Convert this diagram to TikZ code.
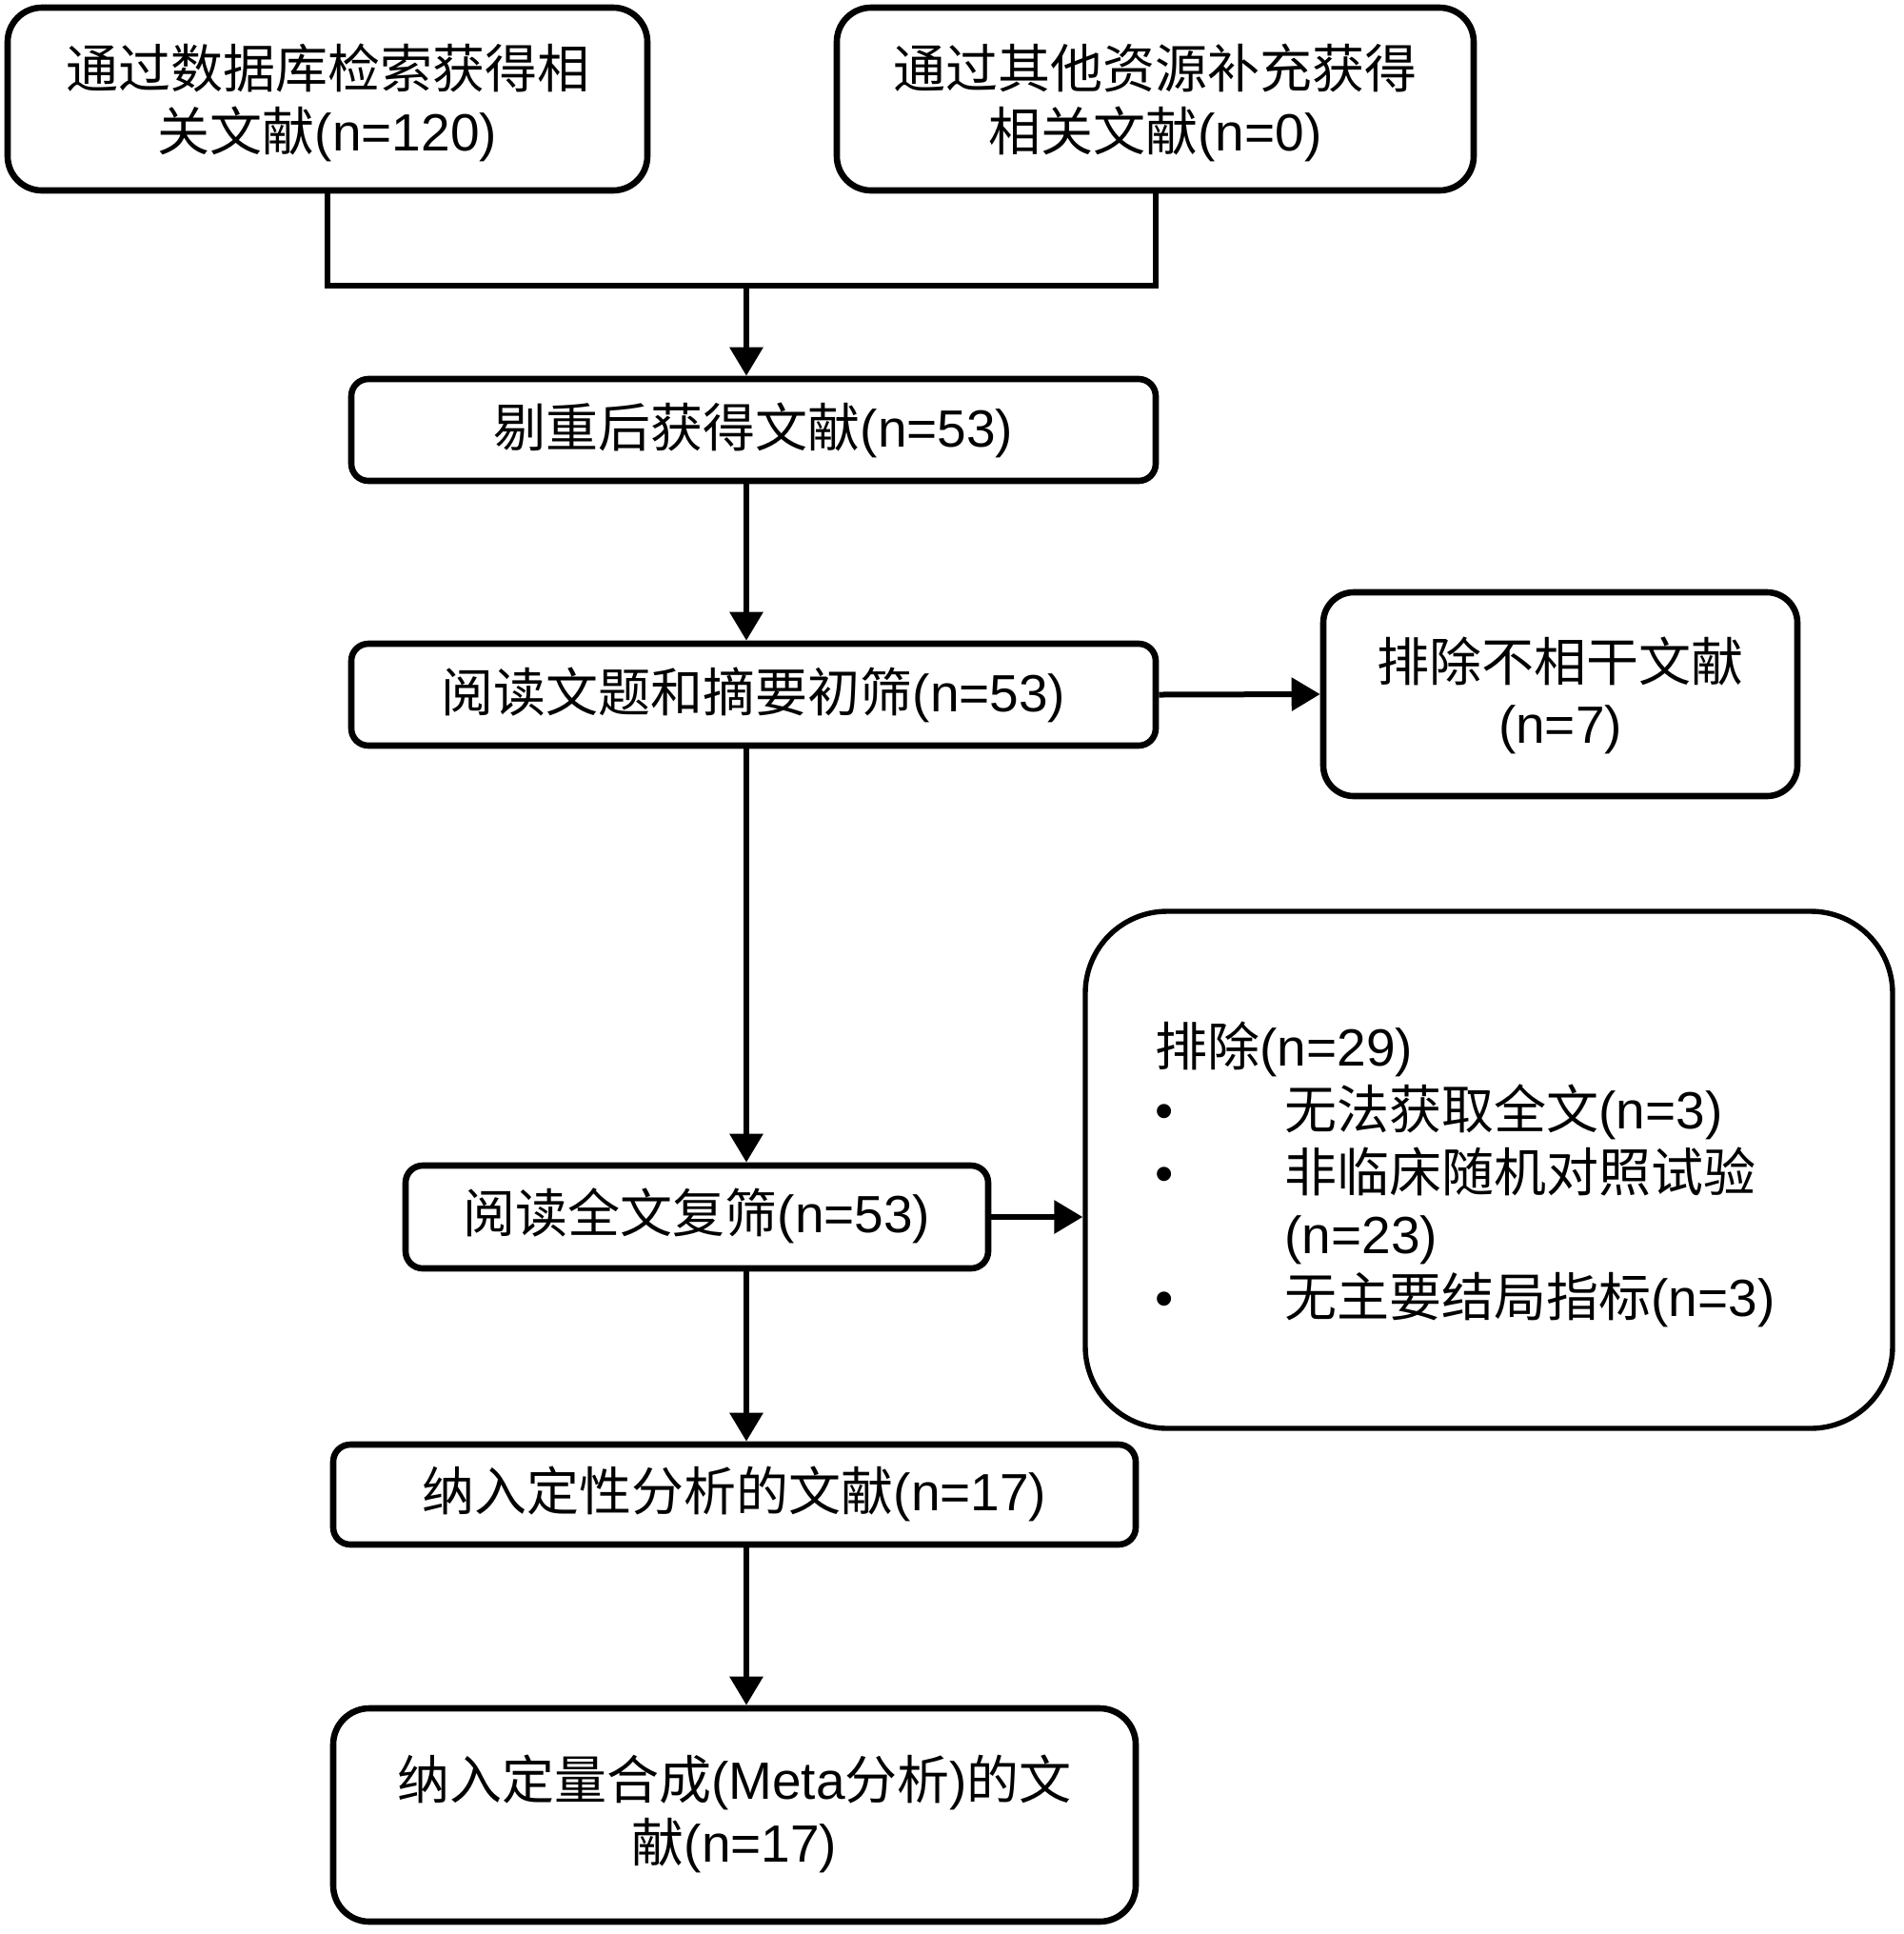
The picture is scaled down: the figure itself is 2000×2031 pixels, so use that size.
\documentclass[tikz,border=0pt]{standalone}
\usepackage{fontspec}
\setmainfont{Liberation Sans}
\newfontfamily\cjk{Noto Sans CJK SC}
\usetikzlibrary{arrows.meta}
\newcommand\zh[1]{{\cjk #1}}
\newcommand\dn[2]{\raisebox{-#1}[\height][\depth]{\begin{tabular}{@{}c@{}}#2\end{tabular}}}
\begin{document}
\begin{tikzpicture}[x=0.5pt,y=-0.5pt,
  txt/.style={font=\fontsize{27.5pt}{32.5pt}\selectfont},
  box/.style={txt, draw, line width=3.3pt, rounded corners=9pt, inner sep=0pt},
  conn/.style={line width=3pt},
  arr/.style={conn, -{Triangle[length=15pt,width=17pt]}}]
\useasboundingbox (0,0) rectangle (2000,2031);
\node[box, rounded corners=18pt, minimum width=336pt, minimum height=96pt] (A) at (344,104)
  {\dn{4pt}{\zh{通过数据库检索获得相}\\\zh{关文献}(n=120)}};
\node[box, rounded corners=18pt, minimum width=334.5pt, minimum height=96pt] (B) at (1213.5,104)
  {\dn{4pt}{\zh{通过其他资源补充获得}\\\zh{相关文献}(n=0)}};
\node[box, minimum width=422.5pt, minimum height=53.5pt] (C) at (791.5,451.5)
  {\dn{2pt}{\zh{剔重后获得文献}(n=53)}};
\node[box, minimum width=422.5pt, minimum height=53.5pt] (D) at (791.5,729.5)
  {\dn{2pt}{\zh{阅读文题和摘要初筛}(n=53)}};
\node[box, rounded corners=16pt, minimum width=249pt, minimum height=107pt] (E) at (1639,729)
  {\dn{2.5pt}{\zh{排除不相干文献}\\(n=7)}};
\node[box, line width=2.7pt, rounded corners=43pt, minimum width=424pt, minimum height=271.5pt] (F) at (1564,1228.5) {};
\node[txt, anchor=base west, inner sep=0pt] (Ftext) at (1213,1119)
  {\begin{tabular}[t]{@{}l@{}}
   \zh{排除}(n=29)\\
   \makebox[68pt][l]{•}\zh{无法获取全文}(n=3)\\
   \makebox[68pt][l]{•}\zh{非临床随机对照试验}\\
   \hspace*{68pt}(n=23)\\
   \makebox[68pt][l]{•}\zh{无主要结局指标}(n=3)
   \end{tabular}};
\node[box, minimum width=306pt, minimum height=54pt] (G) at (732,1278)
  {\dn{1.5pt}{\zh{阅读全文复筛}(n=53)}};
\node[box, minimum width=421.5pt, minimum height=52.5pt] (H) at (771.5,1569.5)
  {\dn{1.5pt}{\zh{纳入定性分析的文献}(n=17)}};
\node[box, rounded corners=19pt, minimum width=421.5pt, minimum height=112pt] (I) at (771.5,1906)
  {\dn{1.5pt}{\zh{纳入定量合成}(Meta\zh{分析})\zh{的文}\\\zh{献}(n=17)}};
\coordinate (J) at (784,300);
\draw[conn] (A.south) |- (J) -| (B.south);
\draw[arr] (J) -- (J |- C.north);
\draw[arr] (C.south -| J) -- (D.north -| J);
\draw[arr] (D.south -| J) -- (G.north -| J);
\draw[arr] (G.south -| J) -- (H.north -| J);
\draw[arr] (H.south -| J) -- (I.north -| J);
\draw[arr] (D.east) -- (E.west);
\draw[arr] (G.east) -- (F.west |- G.east);
\end{tikzpicture}
\end{document}
